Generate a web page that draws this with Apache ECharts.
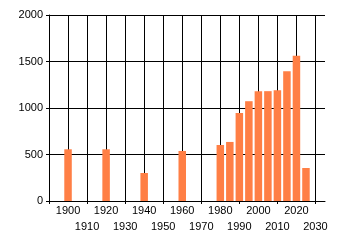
<!DOCTYPE html>
<html><head><meta charset="utf-8">
<script src="https://cdn.jsdelivr.net/npm/echarts@6/dist/echarts.min.js"></script>
<style>html,body{margin:0;padding:0;background:#fff}#c{width:340px;height:245px}</style>
</head><body><div id="c"></div>
<script>
var years = [1900, 1920, 1940, 1960, 1980, 1985, 1990, 1995, 2000, 2005, 2010, 2015, 2020, 2025];
var values = [556, 556, 301, 538, 602, 635, 947, 1073, 1181, 1181, 1192, 1396, 1561, 355];
var yTicks = [0, 500, 1000, 1500, 2000];
var xMin = 1890, xMax = 2035, xLabelMax = 2030;

var data = years.map(function (y, i) { return [y, values[i]]; });
var font = { fontFamily: 'Liberation Sans', fontSize: 11, color: '#000' };
var chart = echarts.init(document.getElementById('c'), null, { renderer: 'canvas' });
chart.setOption({
  animation: false,
  backgroundColor: '#fff',
  grid: [
    { left: 49, right: 15, top: 15, bottom: 44 },
    { left: 49, right: 24.5, top: 15, bottom: 44 }
  ],
  xAxis: [
    {
      type: 'value', gridIndex: 0, position: 'bottom', min: xMin, max: xMax, interval: 10,
      axisLine: { show: true, lineStyle: { color: '#000', width: 1 } },
      axisTick: { show: false },
      splitLine: { show: true, showMinLine: true, showMaxLine: false, lineStyle: { color: '#000', width: 1 } },
      axisLabel: Object.assign({
        margin: 2, lineHeight: 16, showMinLabel: true, showMaxLabel: true,
        formatter: function (v) {
          if (v < years[0] || v > xLabelMax) return '';
          return ((v - 1900) % 20 === 0) ? String(v) : '\n' + v;
        }
      }, font)
    },
    {
      type: 'value', gridIndex: 1, position: 'bottom', min: xMin, max: xLabelMax, interval: 20,
      axisLine: { show: false },
      axisTick: { show: true, length: 3, lineStyle: { color: '#000', width: 1 } },
      splitLine: { show: false },
      axisLabel: { show: false }
    }
  ],
  yAxis: [
    {
      type: 'value', gridIndex: 0, min: yTicks[0], max: yTicks[yTicks.length - 1], interval: 500,
      axisLine: { show: true, lineStyle: { color: '#000', width: 1 } },
      axisTick: { show: true, length: 3, lineStyle: { color: '#000', width: 1 } },
      splitLine: { show: true, lineStyle: { color: '#000', width: 1 } },
      axisLabel: Object.assign({ margin: 6, formatter: function (v) { return String(v); } }, font)
    },
    {
      type: 'value', gridIndex: 1, min: 0, max: 2000, show: false
    }
  ],
  series: [{
    type: 'bar', xAxisIndex: 0, yAxisIndex: 0, data: data, barWidth: 7.5,
    itemStyle: { color: '#FF7F45' }
  }]
});
</script></body></html>
